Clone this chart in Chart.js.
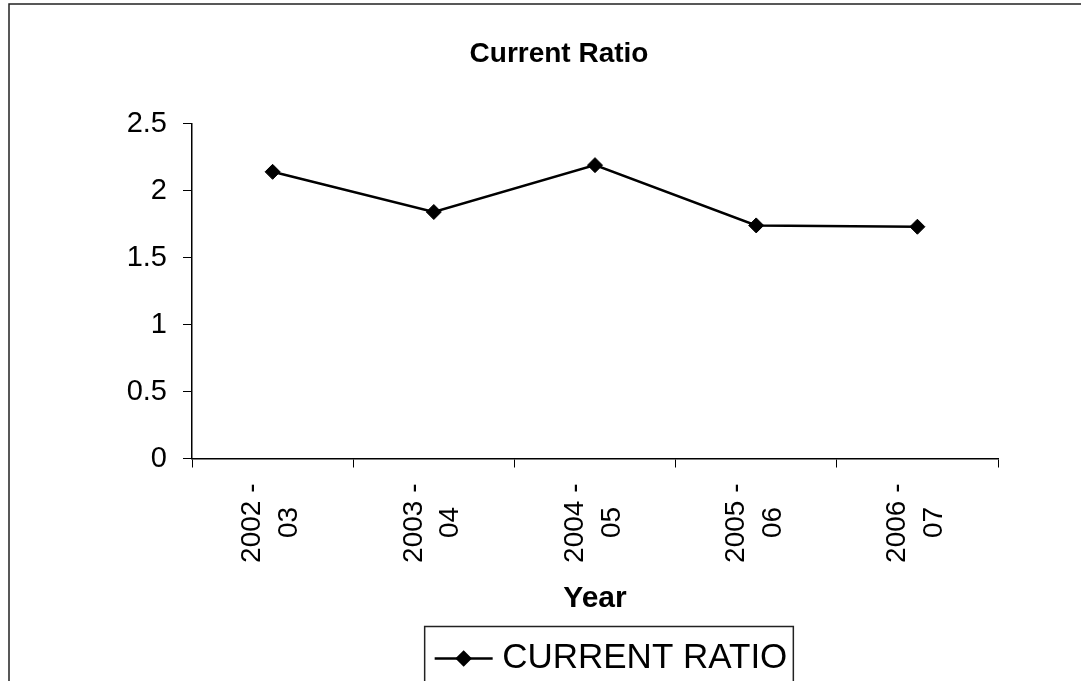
<!DOCTYPE html>
<html>
<head>
<meta charset="utf-8">
<script src="https://cdn.jsdelivr.net/npm/chart.js@4/dist/chart.umd.min.js"></script>
<style>
  html, body { margin: 0; padding: 0; background: #fff; }
  canvas { display: block; }
</style>
</head>
<body>
<canvas id="c" width="1081" height="681"></canvas>
<script>
// Data
const categories = ['2002 - 03', '2003 - 04', '2004 - 05', '2005 - 06', '2006 - 07'];
const currentRatio = [2.14, 1.84, 2.19, 1.74, 1.73];
const yTickValues = [0, 0.5, 1, 1.5, 2, 2.5];
const chartTitle = 'Current Ratio';
const xAxisTitle = 'Year';
const seriesName = 'CURRENT RATIO';

// Styling
const FONT = "'Liberation Sans', Arial, Helvetica, sans-serif";
const INK = '#000';
const X_TICK_SIZE = 28;

// Split "2002 - 03" into two lines and pad the short line so both sit centred
// on the tick once the labels are rotated (Chart.js right-aligns rotated text).
const measureCtx = document.createElement('canvas').getContext('2d');
function centredLines(label) {
  const cut = label.lastIndexOf(' ');
  const head = label.slice(0, cut);
  const tail = label.slice(cut + 1);
  measureCtx.font = `${X_TICK_SIZE}px ${FONT}`;
  const gap = (measureCtx.measureText(head).width - measureCtx.measureText(tail).width) / 2;
  const sp = measureCtx.measureText(' ').width;
  return [head, tail + ' '.repeat(Math.max(0, Math.round(gap / sp)))];
}

// Thin frame round the whole chart and a boxed legend with a line-and-diamond key
const framePlugin = {
  id: 'frame',
  afterLayout(chart) {
    // legend block sits a little right of the plot centre and close to the bottom edge
    if (chart.legend) {
      chart.legend.left += 16;
      chart.legend.right += 16;
      chart.legend.top += 5;
      chart.legend.bottom += 5;
    }
  },
  beforeDraw(chart) {
    const ctx = chart.ctx;
    ctx.save();
    ctx.fillStyle = '#fff';
    ctx.fillRect(0, 0, chart.width, chart.height);
    ctx.strokeStyle = '#222';
    ctx.lineWidth = 1.5;
    ctx.beginPath();
    ctx.moveTo(9, chart.height);
    ctx.lineTo(9, 4);
    ctx.lineTo(chart.width, 4);
    ctx.stroke();
    ctx.restore();
  },
  afterDraw(chart) {
    const legend = chart.legend;
    if (!legend || !legend.legendHitBoxes.length) return;
    const hb = legend.legendHitBoxes[0];
    const ctx = chart.ctx;
    ctx.save();
    ctx.strokeStyle = '#222';
    ctx.lineWidth = 1.5;
    ctx.strokeRect(hb.left - 10, hb.top - 14.5, hb.width + 16, chart.height);
    const cy = hb.top + hb.height / 2;
    ctx.strokeStyle = INK;
    ctx.lineWidth = 2.5;
    ctx.beginPath();
    ctx.moveTo(hb.left, cy);
    ctx.lineTo(hb.left + 58, cy);
    ctx.stroke();
    Chart.helpers.drawPoint(ctx, {
      pointStyle: 'rectRot', radius: 6.5, borderWidth: 1
    }, hb.left + 29, cy);
    ctx.restore();
  }
};

new Chart(document.getElementById('c'), {
  type: 'line',
  data: {
    labels: categories,
    datasets: [{
      label: seriesName,
      data: currentRatio,
      borderColor: INK,
      backgroundColor: INK,
      borderWidth: 2.5,
      pointStyle: 'rectRot',
      pointRadius: 7.5,
      pointBackgroundColor: INK,
      pointBorderColor: INK,
      pointBorderWidth: 1,
      tension: 0,
      fill: false
    }]
  },
  options: {
    responsive: false,
    animation: false,
    devicePixelRatio: 1,
    layout: { padding: { left: 120, right: 83, top: 0, bottom: 0 } },
    plugins: {
      title: {
        display: true,
        text: chartTitle,
        color: INK,
        font: { family: FONT, size: 28, weight: 'bold', lineHeight: 1.2 },
        padding: { top: 37, bottom: 53 }
      },
      legend: {
        display: true,
        position: 'bottom',
        fullSize: false,
        labels: {
          color: INK,
          font: { family: FONT, size: 35 },
          boxWidth: 50,
          boxHeight: 2,
          padding: 6.5,
          generateLabels(chart) {
            return chart.data.datasets.map((ds, i) => ({
              text: ds.label,
              fillStyle: 'rgba(0,0,0,0)',
              strokeStyle: 'rgba(0,0,0,0)',
              lineWidth: 0,
              fontColor: INK,
              datasetIndex: i
            }));
          }
        }
      },
      tooltip: { enabled: false }
    },
    scales: {
      x: {
        type: 'category',
        offset: true,
        grid: {
          display: true,
          offset: true,
          drawOnChartArea: false,
          drawTicks: true,
          tickLength: 9,
          color: INK,
          lineWidth: 1
        },
        border: { display: true, color: INK, width: 1.5 },
        ticks: {
          autoSkip: false,
          minRotation: 90,
          maxRotation: 90,
          padding: 16,
          labelOffset: -20,
          color: INK,
          font: { family: FONT, size: X_TICK_SIZE, lineHeight: 1.32 },
          callback(value) { return centredLines(this.getLabelForValue(value)); }
        },
        title: {
          display: true,
          text: xAxisTitle,
          color: INK,
          font: { family: FONT, size: 30, weight: 'bold', lineHeight: 1.2 },
          padding: { top: 4, bottom: 13 }
        },
        afterFit(scale) { scale.height = 171; }
      },
      y: {
        min: 0,
        max: 2.5,
        afterBuildTicks(scale) { scale.ticks = yTickValues.map(v => ({ value: v })); },
        grid: {
          display: true,
          drawOnChartArea: false,
          drawTicks: true,
          tickLength: 9,
          color: INK,
          lineWidth: 1
        },
        border: { display: true, color: INK, width: 1.5 },
        ticks: {
          color: INK,
          padding: 16,
          font: { family: FONT, size: 29 },
          callback(value) { return String(value); }
        },
        afterFit(scale) { scale.width = 72; }
      }
    }
  },
  plugins: [framePlugin]
});
</script>
</body>
</html>
